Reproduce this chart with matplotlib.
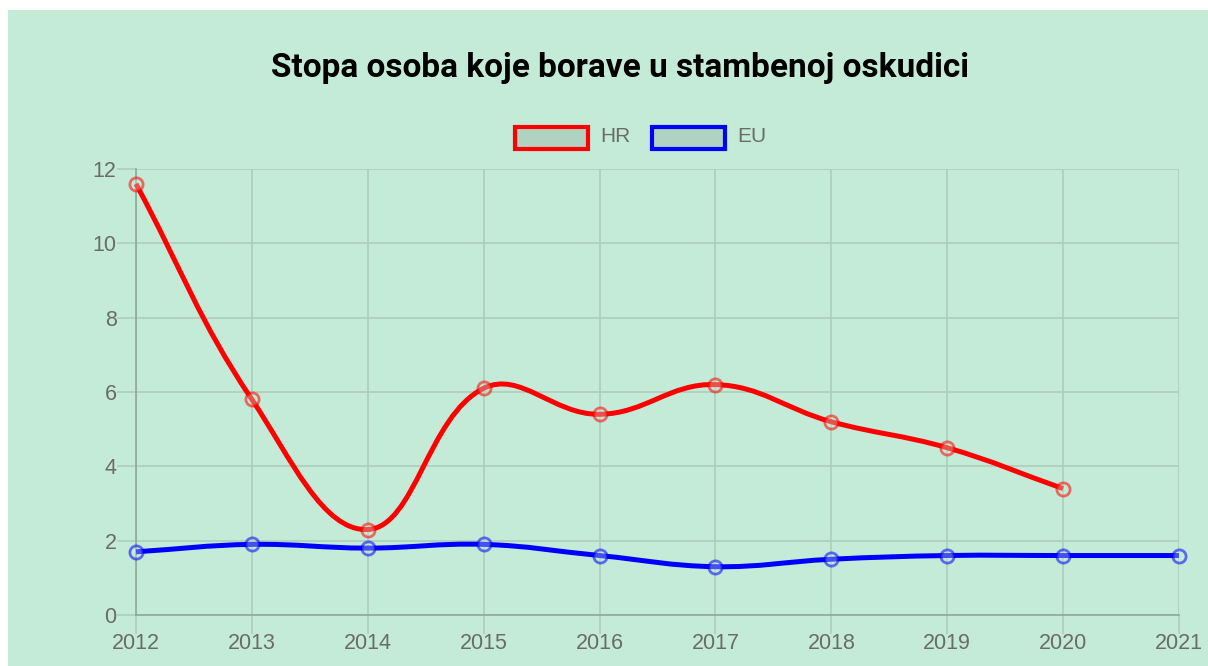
import matplotlib
matplotlib.use("Agg")
import matplotlib.pyplot as plt
from matplotlib.path import Path
from matplotlib.patches import PathPatch, Rectangle
import numpy as np

# data
years = [2012, 2013, 2014, 2015, 2016, 2017, 2018, 2019, 2020, 2021]
hr_years = [2012, 2013, 2014, 2015, 2016, 2017, 2018, 2019, 2020]
hr_values = [11.6, 5.8, 2.3, 6.1, 5.4, 6.2, 5.2, 4.5, 3.4]
eu_values = [1.7, 1.9, 1.8, 1.9, 1.6, 1.3, 1.5, 1.6, 1.6, 1.6]
y_ticks = [0, 2, 4, 6, 8, 10, 12]

title = "Stopa osoba koje borave u stambenoj oskudici"
bg = "#c4ebd7"
grid_col = "#acceba"
text_col = "#6b6b6b"

W, H = 1208, 666
ax_l, ax_r, ax_t, ax_b = 136, 1179, 169, 615
# pixel per data unit, used for spline distances (chart.js style)
px_x = (ax_r - ax_l) / (years[-1] - years[0])
px_y = (ax_b - ax_t) / 12.0


def spline_path(xs, ys, tension=0.4):
    pts = np.column_stack([(np.array(xs) - xs[0]) * px_x, np.array(ys) * px_y])
    n = len(pts)
    cps = []
    for i in range(n):
        prev = pts[max(i - 1, 0)]
        cur = pts[i]
        nxt = pts[min(i + 1, n - 1)]
        d01 = np.hypot(*(cur - prev))
        d12 = np.hypot(*(nxt - cur))
        tot = d01 + d12
        s01 = d01 / tot if tot else 0
        s12 = d12 / tot if tot else 0
        cp_prev = cur - tension * s01 * (nxt - prev)
        cp_next = cur + tension * s12 * (nxt - prev)
        cps.append((cp_prev, cp_next))
    verts = [pts[0]]
    codes = [Path.MOVETO]
    for i in range(1, n):
        verts += [cps[i - 1][1], cps[i][0], pts[i]]
        codes += [Path.CURVE4] * 3
    verts = np.array(verts)
    verts[:, 0] = verts[:, 0] / px_x + xs[0]
    verts[:, 1] = verts[:, 1] / px_y
    return Path(verts, codes)


fig = plt.figure(figsize=(W / 100, H / 100), dpi=100)
fig.patch.set_facecolor("white")
fig.add_artist(Rectangle((8 / W, 0), 1 - 8 / W, 1 - 10 / H,
                         transform=fig.transFigure, facecolor=bg,
                         edgecolor="none", zorder=0))

ax = fig.add_axes([ax_l / W, 1 - ax_b / H, (ax_r - ax_l) / W, (ax_b - ax_t) / H])
ax.set_facecolor(bg)
ax.patch.set_alpha(0)
ax.set_xlim(years[0], years[-1])
ax.set_ylim(0, 12)

for spine in ["top", "right"]:
    ax.spines[spine].set_visible(False)
for spine in ["left", "bottom"]:
    ax.spines[spine].set_color("#8ea898")
    ax.spines[spine].set_linewidth(1.2)

ax.set_xticks(years)
ax.set_yticks(y_ticks)
ax.grid(True, color=grid_col, linewidth=1.2)
ax.tick_params(axis="both", length=14, width=1.2, color=grid_col,
               labelcolor=text_col, labelsize=15.5)
ax.tick_params(axis="x", pad=-1)
ax.tick_params(axis="y", pad=0)
for lbl in ax.get_xticklabels() + ax.get_yticklabels():
    lbl.set_family(["Liberation Sans", "DejaVu Sans"])
ax.set_axisbelow(True)

series = [(hr_years, hr_values, (1, 0, 0)), (years, eu_values, (0, 0, 1))]
for xs, ys, col in series:
    ax.add_patch(PathPatch(spline_path(xs, ys), facecolor="none", edgecolor=col,
                           linewidth=3.6, zorder=3, clip_on=False))
    ax.plot(xs, ys, linestyle="none", marker="o", markersize=9.5,
            markerfacecolor=(0.77, 0.92, 0.84, 0.35), markeredgecolor=col + (0.55,),
            markeredgewidth=2.0, zorder=4, clip_on=False)

fig.text(620 / W, 1 - 68 / H, title, ha="center", va="center",
         fontsize=24, fontweight="bold", family=["Roboto", "DejaVu Sans"],
         color="black")

# legend
legend_items = [("HR", "#ff0000", 515), ("EU", "#0000ff", 652)]
for name, col, x0 in legend_items:
    fig.add_artist(Rectangle((x0 / W, 1 - 149 / H), 73 / W, 22 / H,
                             transform=fig.transFigure, facecolor=(0, 0, 0, 0.1),
                             edgecolor=col, linewidth=3.0, zorder=5))
    fig.text((x0 + 85) / W, 1 - 137 / H, name, ha="left", va="center",
             fontsize=15, color=text_col, family=["Liberation Sans", "DejaVu Sans"])

fig.savefig("out.png", dpi=100, facecolor=fig.get_facecolor())
